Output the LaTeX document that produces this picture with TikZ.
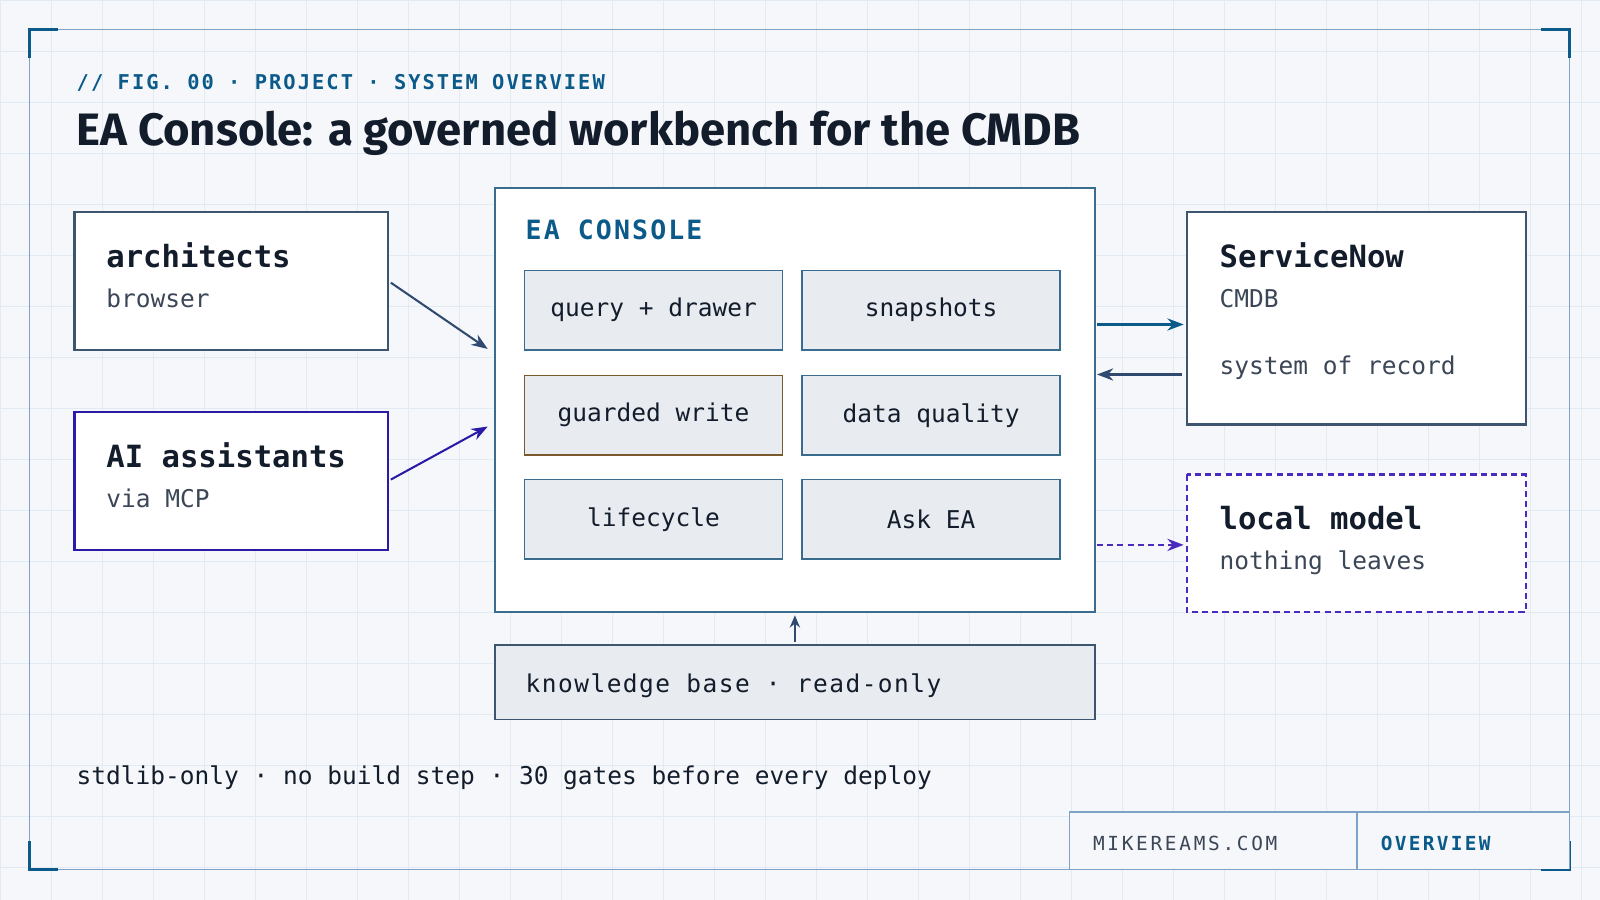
\documentclass[tikz,border=0pt]{standalone}
\usepackage{fontspec}
\setmainfont{Fira Sans}
\setmonofont{DejaVu Sans Mono}
\usetikzlibrary{arrows.meta}
\definecolor{bg}{HTML}{F5F7FA}
\definecolor{gridc}{HTML}{E2EAF3}
\definecolor{frame}{HTML}{7FA3C8}
\definecolor{dk}{HTML}{0B5A8A}
\definecolor{ink}{HTML}{131C2B}
\definecolor{txt}{HTML}{3B4656}
\definecolor{cellfill}{HTML}{E8ECF1}
\definecolor{cellbd}{HTML}{3A6C90}
\definecolor{brown}{HTML}{7A5A2A}
\definecolor{indigo}{HTML}{2A1AA8}
\definecolor{violet}{HTML}{4B2AC0}
\definecolor{slate}{HTML}{2F4A6E}
\definecolor{boxbd}{HTML}{3E5570}
\tikzset{
  fs/.style={font=\fontsize{#1}{#1}\selectfont},
  lab/.style={anchor=base west, inner sep=0pt},
  box/.style={draw=boxbd, line width=2pt, fill=white},
  cell/.style={draw=cellbd, line width=1.5pt, fill=cellfill, minimum width=253pt, minimum height=78pt, inner sep=0pt, font=\ttfamily\fontsize{24}{24}\selectfont, text=ink},
  arr/.style={line width=2pt, -{Stealth[length=16pt,width=12pt]}},
}
\begin{document}
\begin{tikzpicture}[x=1pt,y=-1pt]
\useasboundingbox (0,0) rectangle (1568,882);
\fill[bg] (0,0) rectangle (1568,882);
\foreach \i in {0,50,...,1550} \draw[gridc, line width=0.8pt] (\i,0) -- (\i,882);
\foreach \j in {0,50,...,850} \draw[gridc, line width=0.8pt] (0,\j) -- (1568,\j);
\draw[frame, line width=1.5pt] (29,29) rectangle (1538,852);
\foreach \x/\y/\dx/\dy in {29/29/1/1,1538/29/-1/1,29/852/1/-1,1538/852/-1/-1}
  \draw[dk, line width=3pt] (\x+28*\dx,\y) -- (\x,\y) -- (\x,\y+28*\dy);
\node[lab, text=dk, fs=20] (sub) at (75,88) {\ttfamily\bfseries\addfontfeature{LetterSpace=10} // FIG. 00 · PROJECT · SYSTEM OVERVIEW};
\node[lab, text=ink, fs=44.5] (title) at (75,143) {\bfseries EA Console: a governed workbench for the CMDB};
% left boxes
\draw[box] (73,208) rectangle (380,343);
\node[lab, text=ink, fs=30] (arch) at (104,262) {\ttfamily\bfseries architects};
\node[lab, text=txt, fs=24] (browser) at (104,301) {\ttfamily browser};
\draw[box, draw=indigo] (73,404) rectangle (380,539);
\node[lab, text=ink, fs=30] (ai) at (104,458) {\ttfamily\bfseries AI assistants};
\node[lab, text=txt, fs=24] (mcp) at (104,497) {\ttfamily via MCP};
% console
\draw[box, draw=cellbd] (485,184) rectangle (1073,600);
\node[lab, text=dk, fs=26] (eac) at (515,235) {\ttfamily\bfseries\addfontfeature{LetterSpace=8} EA CONSOLE};
\node[cell] (c1) at (640.5,304) {query + drawer};
\node[cell] (c2) at (912.5,304) {snapshots};
\node[cell, draw=brown] (c3) at (640.5,407) {guarded write};
\node[cell] (c4) at (912.5,407) {data quality};
\node[cell] (c5) at (640.5,509) {lifecycle};
\node[cell] (c6) at (912.5,509) {Ask EA};
% right
\draw[box] (1163,208) rectangle (1495,416);
\node[lab, text=ink, fs=30] (sn) at (1195,262) {\ttfamily\bfseries ServiceNow};
\node[lab, text=txt, fs=24] (cmdb) at (1195,301) {\ttfamily CMDB};
\node[lab, text=txt, fs=24] (sor) at (1195,367) {\ttfamily system of record};
\draw[box, draw=violet, dash pattern=on 6pt off 4pt] (1163,465) rectangle (1495,600);
\node[lab, text=ink, fs=30] (lm) at (1195,519) {\ttfamily\bfseries local model};
\node[lab, text=txt, fs=24] (nl) at (1195,558) {\ttfamily nothing leaves};
% kb
\draw[box, draw=boxbd, fill=cellfill, line width=1.5pt] (485,632) rectangle (1073,705);
\node[lab, text=ink, fs=24] (kb) at (515,679) {\ttfamily\addfontfeature{LetterSpace=6} knowledge base · read-only};
% arrows
\coordinate (a1) at (383,277); \coordinate (a2) at (478,342);
\coordinate (b1) at (383,470); \coordinate (b2) at (478,418);
\coordinate (e1) at (1075,318); \coordinate (e2) at (1160,318);
\coordinate (s1) at (1158,367); \coordinate (s2) at (1075,367);
\coordinate (l1) at (1075,534); \coordinate (l2) at (1160,534);
\coordinate (k1) at (779,629); \coordinate (k2) at (779,603);
\draw[arr, slate] (a1) -- (a2);
\draw[arr, indigo] (b1) -- (b2);
\draw[arr, dk] (e1) -- (e2);
\draw[arr, slate] (s1) -- (s2);
\draw[arr, violet, dash pattern=on 6pt off 4pt] (l1) -- (l2);
\draw[arr, slate, -{Stealth[length=12pt,width=10pt]}] (k1) -- (k2);
% footer
\node[lab, text=ink, fs=24] (foot) at (75,769) {\ttfamily stdlib-only · no build step · 30 gates before every deploy};
\draw[frame, line width=1.5pt, fill=bg] (1048,852) -- (1048,796) -- (1538,796) -- (1538,852);
\draw[frame, line width=1.5pt] (1330,796) -- (1330,852);
\node[lab, text=txt, fs=19] (mk) at (1071,833) {\ttfamily\addfontfeature{LetterSpace=14} MIKEREAMS.COM};
\node[lab, text=dk, fs=19] (ov) at (1353,833) {\ttfamily\bfseries\addfontfeature{LetterSpace=12} OVERVIEW};
\end{tikzpicture}
\end{document}
